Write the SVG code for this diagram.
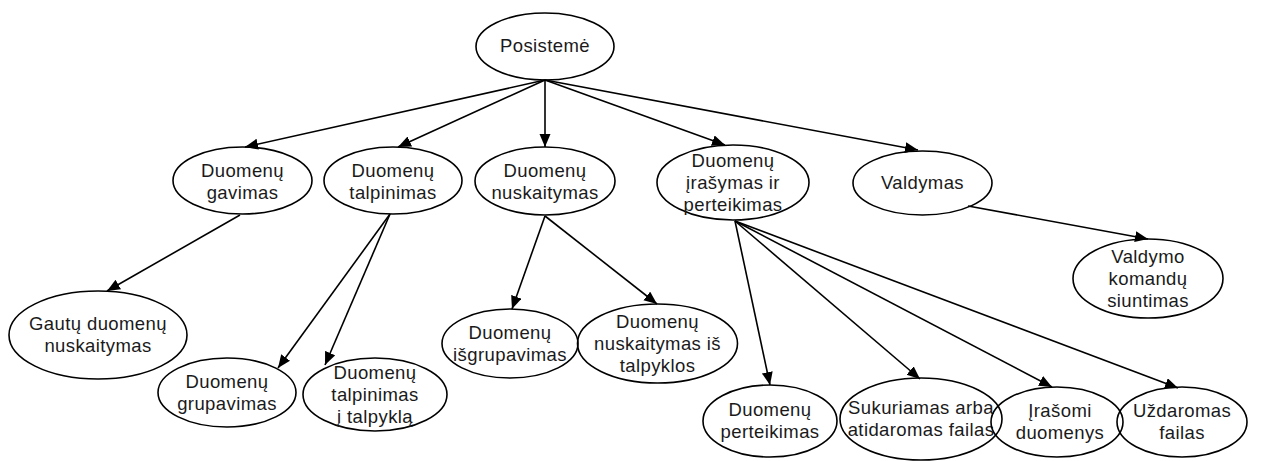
<svg xmlns="http://www.w3.org/2000/svg" width="1265" height="461" viewBox="0 0 1265 461">
  <style>
    .node ellipse { fill: none; stroke: #000; stroke-width: 1.6; }
    .node text { font-family: "Liberation Sans", Arial, sans-serif; font-size: 18.5px; letter-spacing: 0.4px; fill: #1a1a1a; text-anchor: middle; }
    .edge { stroke: #000; stroke-width: 1.6; fill: none; marker-end: url(#arrow); }
  </style>
  <defs>
    <marker id="arrow" markerUnits="userSpaceOnUse" markerWidth="14" markerHeight="12" refX="13" refY="5.5" orient="auto">
      <path d="M0,0 L13,5.5 L0,11 z" fill="#000"/>
    </marker>
  </defs>

  <!-- connectors -->
  <g id="connectors">
    <line class="edge" x1="545" y1="80" x2="245" y2="147"/>
    <line class="edge" x1="545" y1="80" x2="398" y2="147"/>
    <line class="edge" x1="545" y1="80" x2="545" y2="147"/>
    <line class="edge" x1="545" y1="80" x2="725" y2="145"/>
    <line class="edge" x1="545" y1="80" x2="918" y2="150"/>
    <line class="edge" x1="240" y1="215" x2="107" y2="291"/>
    <line class="edge" x1="390" y1="214" x2="278" y2="368"/>
    <line class="edge" x1="390" y1="214" x2="325" y2="365"/>
    <line class="edge" x1="545" y1="216" x2="512" y2="309"/>
    <line class="edge" x1="545" y1="216" x2="657" y2="304"/>
    <line class="edge" x1="735" y1="221" x2="770" y2="385"/>
    <line class="edge" x1="735" y1="221" x2="920" y2="379"/>
    <line class="edge" x1="735" y1="221" x2="1052" y2="387"/>
    <line class="edge" x1="735" y1="221" x2="1178" y2="388"/>
    <line class="edge" x1="968" y1="206" x2="1148" y2="239"/>
  </g>

  <g id="posisteme" class="node">
    <ellipse cx="545" cy="46.5" rx="69" ry="33.5"/>
    <text x="545" y="52">Posistemė</text>
  </g>

  <g id="duomenu-gavimas" class="node">
    <ellipse cx="242.5" cy="180.5" rx="69.5" ry="33.5"/>
    <text x="242.5" y="177">Duomenų</text>
    <text x="242.5" y="199">gavimas</text>
  </g>

  <g id="duomenu-talpinimas" class="node">
    <ellipse cx="393" cy="180.5" rx="69" ry="33.5"/>
    <text x="393" y="177">Duomenų</text>
    <text x="393" y="199">talpinimas</text>
  </g>

  <g id="duomenu-nuskaitymas" class="node">
    <ellipse cx="545" cy="181" rx="70" ry="34"/>
    <text x="545" y="177">Duomenų</text>
    <text x="545" y="199">nuskaitymas</text>
  </g>

  <g id="duomenu-irasymas" class="node">
    <ellipse cx="733" cy="182.5" rx="76" ry="37.5"/>
    <text x="733" y="166.5">Duomenų</text>
    <text x="733" y="188.5">įrašymas ir</text>
    <text x="733" y="210.5">perteikimas</text>
  </g>

  <g id="valdymas" class="node">
    <ellipse cx="922.5" cy="183" rx="69.5" ry="32"/>
    <text x="922.5" y="189">Valdymas</text>
  </g>

  <g id="gautu-duomenu-nuskaitymas" class="node">
    <ellipse cx="98" cy="335" rx="89" ry="44"/>
    <text x="98" y="330">Gautų duomenų</text>
    <text x="98" y="352">nuskaitymas</text>
  </g>

  <g id="duomenu-grupavimas" class="node">
    <ellipse cx="227" cy="392.5" rx="69" ry="34.5"/>
    <text x="227" y="388">Duomenų</text>
    <text x="227" y="410">grupavimas</text>
  </g>

  <g id="duomenu-talpinimas-talpykla" class="node">
    <ellipse cx="375" cy="394.5" rx="72" ry="36.5"/>
    <text x="375" y="378.5">Duomenų</text>
    <text x="375" y="400.5">talpinimas</text>
    <text x="375" y="422.5">į talpyklą</text>
  </g>

  <g id="duomenu-isgrupavimas" class="node">
    <ellipse cx="510" cy="343.5" rx="68" ry="34.5"/>
    <text x="510" y="338.5">Duomenų</text>
    <text x="510" y="360.5">išgrupavimas</text>
  </g>

  <g id="duomenu-nuskaitymas-is-talpyklos" class="node">
    <ellipse cx="657.5" cy="343.5" rx="80" ry="39.5"/>
    <text x="657.5" y="327.5">Duomenų</text>
    <text x="657.5" y="349.5">nuskaitymas iš</text>
    <text x="657.5" y="371.5">talpyklos</text>
  </g>

  <g id="valdymo-komandu-siuntimas" class="node">
    <ellipse cx="1148" cy="278.5" rx="75" ry="39.5"/>
    <text x="1148" y="262.5">Valdymo</text>
    <text x="1148" y="284.5">komandų</text>
    <text x="1148" y="306.5">siuntimas</text>
  </g>

  <g id="duomenu-perteikimas" class="node">
    <ellipse cx="770" cy="421" rx="67" ry="36"/>
    <text x="770" y="416">Duomenų</text>
    <text x="770" y="438">perteikimas</text>
  </g>

  <g id="sukuriamas-failas" class="node">
    <ellipse cx="921" cy="419" rx="81" ry="41"/>
    <text x="921" y="414">Sukuriamas arba</text>
    <text x="921" y="436">atidaromas failas</text>
  </g>

  <g id="irasomi-duomenys" class="node">
    <ellipse cx="1057" cy="422" rx="66" ry="35"/>
    <text x="1060" y="417">Įrašomi</text>
    <text x="1060" y="439">duomenys</text>
  </g>

  <g id="uzdaromas-failas" class="node">
    <ellipse cx="1182" cy="422" rx="65" ry="35"/>
    <text x="1182" y="417">Uždaromas</text>
    <text x="1182" y="439">failas</text>
  </g>
</svg>
